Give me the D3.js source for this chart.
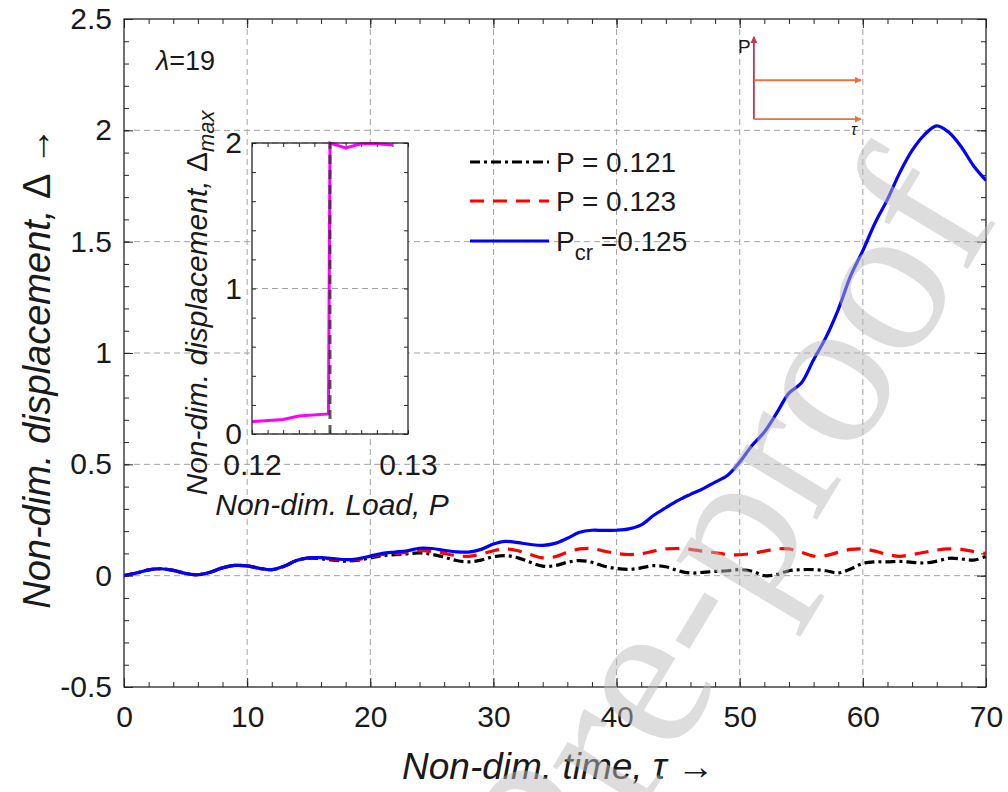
<!DOCTYPE html>
<html>
<head>
<meta charset="utf-8">
<script src="https://cdn.jsdelivr.net/npm/d3@7"></script>
<style>
  body { margin: 0; background: #fff; }
  svg { display: block; }
  text { fill: #1a1a1a; }
</style>
</head>
<body>
<svg id="chart" width="1008" height="792" font-family="Arial, 'Liberation Sans', Helvetica, sans-serif"></svg>
<script>
// ---- time histories of the non-dimensional displacement (lambda = 19) ----
const tau = [0,1,2,3,4,5,6,7,8,9,10,11,12,13,14,15,16,17,18,19,20,21,22,23,24,25,26,27,28,29,30,
  31,32,33,34,35,36,37,38,39,40,41,42,43,44,45,46,47,48,49,50,51,52,53,54,55,56,57,58,59,60,
  61,62,63,64,65,66,67,68,69,70];

const dispP121 = [0,0.012,0.026,0.031,0.024,0.01,0.004,0.015,0.035,0.046,0.044,0.033,0.027,0.042,0.068,
  0.078,0.076,0.07,0.065,0.07,0.08,0.09,0.094,0.098,0.102,0.096,0.083,0.068,0.062,0.07,0.085,
  0.09,0.08,0.06,0.043,0.045,0.06,0.068,0.06,0.042,0.032,0.028,0.035,0.045,0.04,0.022,0.012,
  0.015,0.019,0.022,0.027,0.02,0.0,0.005,0.022,0.027,0.027,0.022,0.012,0.03,0.055,0.062,0.062,
  0.064,0.06,0.057,0.065,0.078,0.075,0.07,0.087];

const dispP123 = [0,0.012,0.026,0.031,0.024,0.01,0.004,0.015,0.035,0.046,0.044,0.033,0.027,0.042,0.068,
  0.08,0.08,0.074,0.069,0.073,0.084,0.095,0.1,0.105,0.112,0.11,0.1,0.09,0.087,0.097,0.112,
  0.12,0.112,0.095,0.08,0.085,0.105,0.12,0.122,0.11,0.1,0.095,0.098,0.11,0.12,0.122,0.118,
  0.11,0.103,0.095,0.094,0.1,0.11,0.12,0.12,0.105,0.088,0.09,0.105,0.118,0.12,0.11,0.095,
  0.087,0.095,0.105,0.115,0.12,0.118,0.108,0.1];

const dispPcr = [0,0.012,0.026,0.031,0.024,0.01,0.004,0.015,0.035,0.046,0.044,0.033,0.027,0.042,0.068,
  0.08,0.081,0.077,0.072,0.076,0.088,0.1,0.106,0.112,0.123,0.122,0.114,0.107,0.106,0.118,0.142,
  0.154,0.148,0.14,0.136,0.145,0.168,0.195,0.204,0.203,0.204,0.21,0.228,0.27,0.305,0.338,0.365,
  0.39,0.42,0.45,0.51,0.585,0.645,0.73,0.82,0.865,0.97,1.07,1.195,1.345,1.46,1.585,1.69,
  1.81,1.91,1.98,2.02,1.99,1.925,1.84,1.775];

const seriesNames = ["P = 0.121", "P = 0.123", "P_cr =0.125"];

// ---- peak displacement versus load (inset) ----
const loadP   = [0.120, 0.122, 0.123, 0.1249, 0.125, 0.126, 0.127, 0.128, 0.129];
const maxDisp = [0.085, 0.100, 0.124, 0.138, 2.0, 1.966, 1.995, 1.995, 1.986];
const critLoad = 0.125;

// ---- tick values ----
const xTicks = [0,10,20,30,40,50,60,70];
const yTicks = [-0.5,0,0.5,1,1.5,2,2.5];
const insetXTicks = [0.12, 0.13];
const insetYTicks = [0, 1, 2];

(function draw() {
const svg = d3.select("#chart");
const W = 1008, H = 792;
svg.append("rect").attr("width", W).attr("height", H).attr("fill", "#fff");
const defs = svg.append("defs");

const pl = 124, pr = 986, pt = 19, pb = 687;
const x = d3.scaleLinear().domain([0, 70]).range([pl, pr]);
const y = d3.scaleLinear().domain([-0.5, 2.5]).range([pb, pt]);

const axisColor = "#262626";
const gridColor = "#a3a3a3";
const plainFormat = d => String(d);   // keeps an ASCII hyphen for negatives

// grid
const grid = svg.append("g");
grid.selectAll(".gx").data(xTicks.slice(1, -1)).join("line")
  .attr("x1", d => x(d)).attr("x2", d => x(d)).attr("y1", pt).attr("y2", pb)
  .attr("stroke", gridColor).attr("stroke-width", 1).attr("stroke-dasharray", "6,4");
grid.selectAll(".gy").data(yTicks.slice(1, -1)).join("line")
  .attr("y1", d => y(d)).attr("y2", d => y(d)).attr("x1", pl).attr("x2", pr)
  .attr("stroke", gridColor).attr("stroke-width", 1).attr("stroke-dasharray", "6,4");

// axes with inward ticks
function styleAxis(g) {
  g.select(".domain").remove();
  g.selectAll("line").attr("stroke", axisColor).attr("stroke-width", 1);
  g.selectAll("text").attr("fill", "#1a1a1a").attr("font-family", "Arial, 'Liberation Sans', sans-serif");
}
const xMinor = d3.range(0, 70.01, 2);
const yMinor = d3.range(-0.5, 2.501, 0.1).map(v => +v.toFixed(2));

svg.append("g").attr("transform", `translate(0,${pb})`)
  .call(d3.axisBottom(x).tickValues(xMinor).tickSize(-5).tickFormat(""))
  .call(styleAxis);
svg.append("g").attr("transform", `translate(0,${pb})`)
  .call(d3.axisBottom(x).tickValues(xTicks).tickSize(-9).tickPadding(19).tickFormat(plainFormat))
  .call(styleAxis).call(g => g.selectAll("text").attr("font-size", 30));
svg.append("g").attr("transform", `translate(0,${pt})`)
  .call(d3.axisTop(x).tickValues(xMinor).tickSize(-5).tickFormat(""))
  .call(styleAxis);
svg.append("g").attr("transform", `translate(0,${pt})`)
  .call(d3.axisTop(x).tickValues(xTicks).tickSize(-9).tickFormat(""))
  .call(styleAxis);
svg.append("g").attr("transform", `translate(${pl},0)`)
  .call(d3.axisLeft(y).tickValues(yMinor).tickSize(-5).tickFormat(""))
  .call(styleAxis);
svg.append("g").attr("transform", `translate(${pl},0)`)
  .call(d3.axisLeft(y).tickValues(yTicks).tickSize(-9).tickPadding(12).tickFormat(plainFormat))
  .call(styleAxis).call(g => g.selectAll("text").attr("font-size", 30));
svg.append("g").attr("transform", `translate(${pr},0)`)
  .call(d3.axisRight(y).tickValues(yMinor).tickSize(-5).tickFormat(""))
  .call(styleAxis);
svg.append("g").attr("transform", `translate(${pr},0)`)
  .call(d3.axisRight(y).tickValues(yTicks).tickSize(-9).tickFormat(""))
  .call(styleAxis);

svg.append("rect").attr("x", pl).attr("y", pt).attr("width", pr - pl).attr("height", pb - pt)
  .attr("fill", "none").attr("stroke", axisColor).attr("stroke-width", 1.3);

// data lines
defs.append("clipPath").attr("id", "plotClip")
  .append("rect").attr("x", pl).attr("y", pt).attr("width", pr - pl).attr("height", pb - pt);

const line = d3.line().x((d, i) => x(tau[i])).y(d => y(d)).curve(d3.curveCatmullRom.alpha(0.5));
const styles = [
  { data: dispP121, color: "#000000", dash: "10,4,3,4" },
  { data: dispP123, color: "#ff0000", dash: "14,9" },
  { data: dispPcr,  color: "#0000ff", dash: null }
];
const plot = svg.append("g").attr("clip-path", "url(#plotClip)");
styles.forEach(s => {
  plot.append("path").datum(s.data).attr("d", line)
    .attr("fill", "none").attr("stroke", s.color).attr("stroke-width", 3.2)
    .attr("stroke-dasharray", s.dash);
});

// legend
const leg = svg.append("g");
const legY = [162, 201, 241];
styles.forEach((s, i) => {
  leg.append("line").attr("x1", 470).attr("x2", 549).attr("y1", legY[i]).attr("y2", legY[i])
    .attr("stroke", s.color).attr("stroke-width", 3.2).attr("stroke-dasharray", s.dash);
});
leg.append("text").attr("x", 556).attr("y", legY[0] + 10).attr("font-size", 28).text(seriesNames[0]);
leg.append("text").attr("x", 556).attr("y", legY[1] + 10).attr("font-size", 28).text(seriesNames[1]);
const t3 = leg.append("text").attr("x", 556).attr("y", legY[2] + 10).attr("font-size", 28);
t3.append("tspan").text("P");
t3.append("tspan").attr("font-size", 22).attr("dy", 9).text("cr");
t3.append("tspan").attr("dy", -9).text(" =0.125");

// lambda annotation
const lam = svg.append("text").attr("x", 156).attr("y", 70).attr("font-size", 27);
lam.append("tspan").attr("font-style", "italic").text("λ");
lam.append("tspan").text("=19");

// axis titles
const xt = svg.append("text").attr("x", 558).attr("y", 779).attr("text-anchor", "middle")
  .attr("font-size", 37).attr("font-style", "italic");
xt.append("tspan").text("Non-dim. time, ");
xt.append("tspan").text("τ ");
xt.append("tspan").attr("font-style", "normal").text("→");

const yt = svg.append("text").attr("transform", "translate(50,368) rotate(-90)").attr("text-anchor", "middle")
  .attr("font-size", 38).attr("font-style", "italic");
yt.append("tspan").text("Non-dim. displacement, ");
yt.append("tspan").attr("font-style", "normal").text("Δ →");

// load history sketch (top right)
function arrowMarker(id, color) {
  defs.append("marker").attr("id", id).attr("viewBox", "0 0 10 10").attr("refX", 9).attr("refY", 5)
    .attr("markerWidth", 4).attr("markerHeight", 4).attr("orient", "auto")
    .append("path").attr("d", "M0,0 L10,5 L0,10 z").attr("fill", color);
}
arrowMarker("arrRed", "#c8334f");
arrowMarker("arrOrange", "#e8743b");
const sk = { t0: 51.15, t1: 59.85, p0: 2.05, p1: 2.225, pTop: 2.42 };
svg.append("line").attr("x1", x(sk.t0)).attr("x2", x(sk.t0)).attr("y1", y(sk.p0)).attr("y2", y(sk.pTop))
  .attr("stroke", "#c8334f").attr("stroke-width", 1.8).attr("marker-end", "url(#arrRed)");
[sk.p1, sk.p0].forEach(p => {
  svg.append("line").attr("x1", x(sk.t0)).attr("x2", x(sk.t1)).attr("y1", y(p)).attr("y2", y(p))
    .attr("stroke", "#e8743b").attr("stroke-width", 1.8).attr("marker-end", "url(#arrOrange)");
});
svg.append("text").attr("x", x(sk.t0) - 16).attr("y", y(sk.pTop) + 16).attr("font-size", 19).text("P");
svg.append("text").attr("x", x(sk.t1) - 10).attr("y", y(sk.p0) + 16).attr("font-size", 16)
  .attr("font-style", "italic").text("τ");

// ---- inset: peak displacement vs load ----
const ix = d3.scaleLinear().domain([0.12, 0.13]).range([252, 408]);
const iy = d3.scaleLinear().domain([0, 2]).range([434, 143]);
const inset = svg.append("g");
inset.append("rect").attr("x", 252).attr("y", 143).attr("width", 156).attr("height", 291).attr("fill", "#fff");
inset.selectAll(".igy").data(insetYTicks).join("line")
  .attr("x1", 252).attr("x2", 408).attr("y1", d => iy(d)).attr("y2", d => iy(d))
  .attr("stroke", gridColor).attr("stroke-dasharray", "6,4");

const ixMinor = d3.range(0, 11).map(k => +(0.12 + k * 0.001).toFixed(4));
const iyMinor = d3.range(0, 11).map(k => +(k * 0.2).toFixed(2));
inset.append("g").attr("transform", "translate(0,434)")
  .call(d3.axisBottom(ix).tickValues(ixMinor).tickSize(-4).tickFormat("")).call(styleAxis);
inset.append("g").attr("transform", "translate(0,143)")
  .call(d3.axisTop(ix).tickValues(ixMinor).tickSize(-4).tickFormat("")).call(styleAxis);
inset.append("g").attr("transform", "translate(252,0)")
  .call(d3.axisLeft(iy).tickValues(iyMinor).tickSize(-4).tickFormat("")).call(styleAxis);
inset.append("g").attr("transform", "translate(408,0)")
  .call(d3.axisRight(iy).tickValues(iyMinor).tickSize(-4).tickFormat("")).call(styleAxis);
inset.append("g").attr("transform", "translate(0,434)")
  .call(d3.axisBottom(ix).tickValues(insetXTicks).tickSize(0).tickPadding(20).tickFormat(d3.format(".2f")))
  .call(styleAxis).call(g => g.selectAll("text").attr("font-size", 30));
inset.append("g").attr("transform", "translate(252,0)")
  .call(d3.axisLeft(iy).tickValues(insetYTicks).tickSize(0).tickPadding(10).tickFormat(d3.format("d")))
  .call(styleAxis).call(g => g.selectAll("text").attr("font-size", 30));

const iline = d3.line().x((d, i) => ix(loadP[i])).y(d => iy(d));
inset.append("path").datum(maxDisp).attr("d", iline)
  .attr("fill", "none").attr("stroke", "#ff00ff").attr("stroke-width", 3);
inset.append("line").attr("x1", ix(critLoad)).attr("x2", ix(critLoad)).attr("y1", iy(0)).attr("y2", iy(2))
  .attr("stroke", "#333").attr("stroke-opacity", 0.8).attr("stroke-width", 3).attr("stroke-dasharray", "9,6");
inset.append("rect").attr("x", 252).attr("y", 143).attr("width", 156).attr("height", 291)
  .attr("fill", "none").attr("stroke", axisColor).attr("stroke-width", 1.3);

inset.append("text").attr("x", 332).attr("y", 515).attr("text-anchor", "middle")
  .attr("font-size", 30).attr("font-style", "italic").text("Non-dim. Load, P");
const iyt = inset.append("text").attr("transform", "translate(207,303) rotate(-90)").attr("text-anchor", "middle")
  .attr("font-size", 30).attr("font-style", "italic");
iyt.append("tspan").text("Non-dim. displacement, ");
iyt.append("tspan").attr("font-style", "normal").text("Δ");
iyt.append("tspan").attr("font-size", 22).attr("dy", 7).text("max");

// watermark
svg.append("text").attr("transform", "translate(1000,215) rotate(-59)")
  .attr("text-anchor", "end").attr("font-family", "'Liberation Serif', 'Times New Roman', serif")
  .attr("font-size", 216).style("fill", "#bbbbbb").attr("fill-opacity", 0.5)
  .text("Journal Pre-proof");
})();
</script>
</body>
</html>
